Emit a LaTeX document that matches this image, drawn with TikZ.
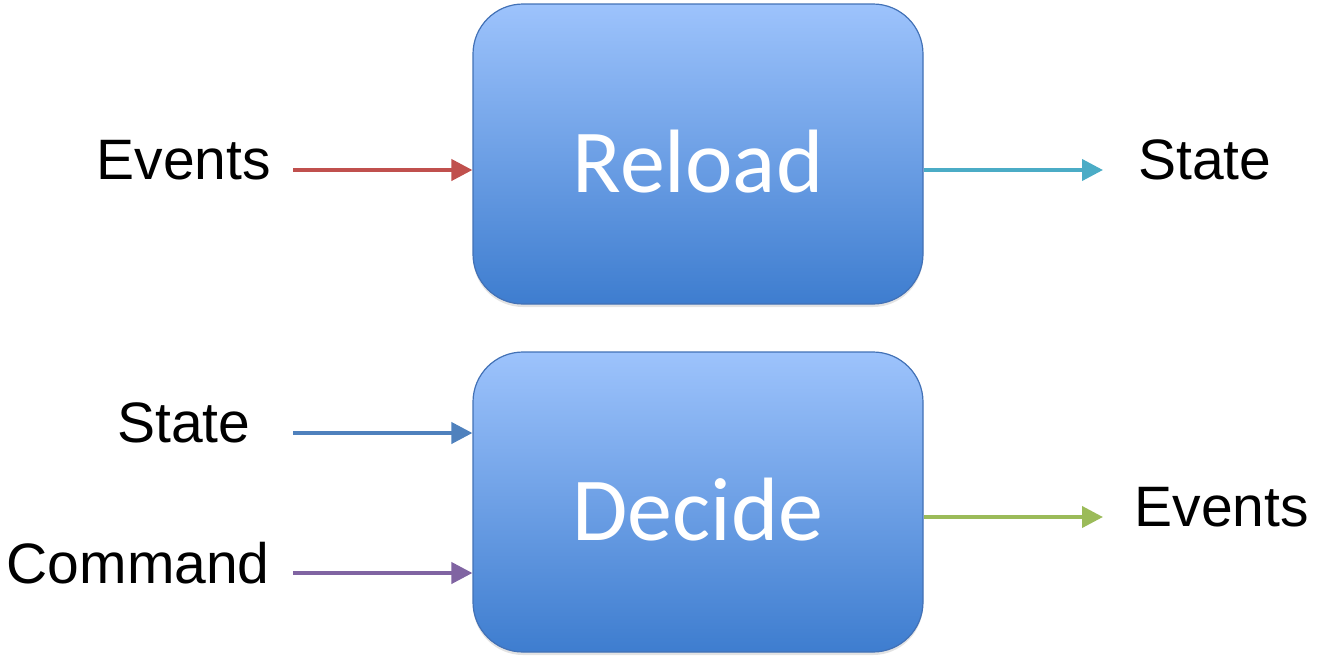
\documentclass[tikz,border=0pt]{standalone}
\usepackage{fontspec}
\setmainfont{Liberation Sans}
\newfontfamily\boxfont{Carlito}
\usetikzlibrary{arrows.meta,shadows}
\definecolor{boxtop}{RGB}{157,195,252}
\definecolor{boxbot}{RGB}{62,125,207}
\definecolor{boxline}{RGB}{66,113,182}
\definecolor{cred}{RGB}{192,80,77}
\definecolor{cteal}{RGB}{75,172,198}
\definecolor{cblue}{RGB}{79,129,189}
\definecolor{cpurple}{RGB}{128,100,162}
\definecolor{cgreen}{RGB}{155,187,89}
\tikzset{
  bigbox/.style={draw=boxline, line width=1.2pt, rounded corners=50pt,
    top color=boxtop, bottom color=boxbot,
    minimum width=450pt, minimum height=300pt, inner sep=0pt,
    text=white, font=\boxfont\fontsize{90}{90}\selectfont,
    text height=76pt, text depth=0pt,
    drop shadow={opacity=0.22, shadow xshift=0pt, shadow yshift=-3pt}},
  lbl/.style={inner sep=0pt, anchor=base west, font=\fontsize{57}{57}\selectfont},
  conn/.style={line width=4pt, -{Triangle[length=21pt,width=21pt]}},
}
\begin{document}
\begin{tikzpicture}[x=1pt,y=-1pt]
\useasboundingbox (0,0) rectangle (1317,664);
\node[bigbox] (reload) at (698,154) {Reload};
\node[bigbox] (decide) at (698,502) {Decide};
\node[lbl] (evin) at (96.5,179) {Events};
\node[lbl] (stout) at (1138,179) {State};
\node[lbl] (stin) at (117,442) {State};
\node[lbl] (cmd) at (6.5,583) {Command};
\node[lbl] (evout) at (1134.5,526) {Events};
\coordinate (a1) at (293,170);
\coordinate (a2) at (1103,170);
\coordinate (a3) at (293,433);
\coordinate (a4) at (293,573);
\coordinate (a5) at (1103,517);
\draw[conn, cred] (a1) -- (a1 -| reload.west);
\draw[conn, cteal] (a1 -| reload.east) -- (a2);
\draw[conn, cblue] (a3) -- (a3 -| decide.west);
\draw[conn, cpurple] (a4) -- (a4 -| decide.west);
\draw[conn, cgreen] (a5 -| decide.east) -- (a5);
\end{tikzpicture}
\end{document}
